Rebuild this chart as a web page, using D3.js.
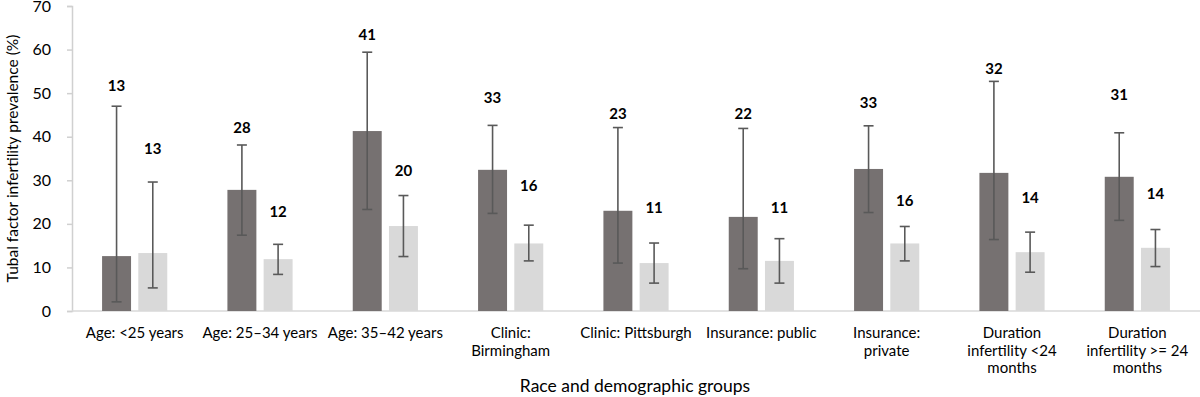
<!DOCTYPE html>
<html>
<head>
<meta charset="utf-8">
<script src="https://cdn.jsdelivr.net/npm/d3@7"></script>
<style>
  body { margin: 0; background: #fff; }
  svg text { font-family: Lato, "Open Sans", sans-serif; fill: #000; }
</style>
</head>
<body>
<svg id="chart" width="1200" height="397"></svg>
<script>
// categories (multi-line labels split by \n)
const categories = [
  "Age: <25 years", "Age: 25–34 years", "Age: 35–42 years",
  "Clinic:\nBirmingham", "Clinic: Pittsburgh", "Insurance: public",
  "Insurance:\nprivate", "Duration\ninfertility <24\nmonths", "Duration\ninfertility >= 24\nmonths"
];
// dark series
const darkValues = [12.6, 27.8, 41.3, 32.4, 23.0, 21.6, 32.6, 31.7, 30.8];
const darkLow    = [2.1, 17.4, 23.3, 22.4, 11.0, 9.7, 22.6, 16.4, 20.8];
const darkHigh   = [47.0, 38.1, 59.4, 42.6, 42.1, 41.9, 42.5, 52.7, 40.9];
const darkLabels = ["13", "28", "41", "33", "23", "22", "33", "32", "31"];
const darkLabelAt = [51.6, 42.0, 63.3, 49.0, 45.2, 45.2, 47.9, 55.5, 49.6];
// light series
const lightValues = [13.3, 11.9, 19.5, 15.5, 11.0, 11.5, 15.5, 13.5, 14.5];
const lightLow    = [5.3, 8.4, 12.5, 11.5, 6.4, 6.4, 11.5, 8.9, 10.2];
const lightHigh   = [29.6, 15.3, 26.5, 19.7, 15.6, 16.6, 19.4, 18.1, 18.7];
const lightLabels = ["13", "12", "20", "16", "11", "11", "16", "14", "14"];
const lightLabelAt = [37.3, 22.8, 32.2, 28.7, 23.8, 23.8, 25.4, 25.9, 26.8];
const yTicks = [0, 10, 20, 30, 40, 50, 60, 70];

const margin = { left: 72, right: 0, top: 6, bottom: 86 };
const width = 1200, height = 397;
const svg = d3.select("#chart");

const x = d3.scaleBand().domain(categories).range([margin.left, width - margin.right]).padding(0);
const x1 = d3.scaleBand().domain(["dark", "light"])
  .range([x.bandwidth() * 0.24, x.bandwidth() * 0.76]).paddingInner(0.2);
const y = d3.scaleLinear().domain([0, 70]).range([height - margin.bottom, margin.top]);

// y axis
const yAxis = svg.append("g")
  .attr("transform", `translate(${margin.left},0)`)
  .call(d3.axisLeft(y).tickValues(yTicks).tickSize(5).tickPadding(16));
yAxis.select(".domain").attr("stroke", "#d0d0d0").attr("stroke-width", 1.5);
yAxis.selectAll(".tick line").attr("stroke", "#d0d0d0").attr("stroke-width", 1.5);
yAxis.selectAll(".tick text").attr("font-size", 16).attr("fill", "#000");

// x axis line
svg.append("line")
  .attr("x1", margin.left).attr("x2", width)
  .attr("y1", y(0)).attr("y2", y(0))
  .attr("stroke", "#d9d9d9").attr("stroke-width", 1.5);

const series = [
  { key: "dark", values: darkValues, low: darkLow, high: darkHigh, labels: darkLabels, labelAt: darkLabelAt, color: "#767171" },
  { key: "light", values: lightValues, low: lightLow, high: lightHigh, labels: lightLabels, labelAt: lightLabelAt, color: "#d9d9d9" }
];

series.forEach(s => {
  const g = svg.append("g");
  const cx = (d, i) => x(categories[i]) + x1(s.key) + x1.bandwidth() / 2;

  g.selectAll("rect")
    .data(s.values)
    .enter()
    .append("rect")
    .attr("x", (d, i) => x(categories[i]) + x1(s.key))
    .attr("width", x1.bandwidth())
    .attr("y", d => y(d))
    .attr("height", d => y(0) - y(d))
    .attr("fill", s.color);

  // error bars
  const eb = g.selectAll("g.err")
    .data(s.values)
    .enter()
    .append("g")
    .attr("class", "err")
    .attr("stroke", "#595959")
    .attr("stroke-width", 1.6);
  eb.append("line")
    .attr("x1", cx).attr("x2", cx)
    .attr("y1", (d, i) => y(s.low[i])).attr("y2", (d, i) => y(s.high[i]));
  eb.append("line")
    .attr("x1", (d, i) => cx(d, i) - 5).attr("x2", (d, i) => cx(d, i) + 5)
    .attr("y1", (d, i) => y(s.high[i])).attr("y2", (d, i) => y(s.high[i]));
  eb.append("line")
    .attr("x1", (d, i) => cx(d, i) - 5).attr("x2", (d, i) => cx(d, i) + 5)
    .attr("y1", (d, i) => y(s.low[i])).attr("y2", (d, i) => y(s.low[i]));

  // value labels
  g.selectAll("text")
    .data(s.labels)
    .enter()
    .append("text")
    .attr("x", (d, i) => cx(d, i))
    .attr("y", (d, i) => y(s.labelAt[i]))
    .attr("dy", "0.35em")
    .attr("text-anchor", "middle")
    .attr("font-size", 15)
    .attr("font-weight", "bold")
    .text(d => d);
});

// category labels
const catG = svg.append("g");
categories.forEach(c => {
  const lines = c.split("\n");
  const t = catG.append("text")
    .attr("x", x(c) + x.bandwidth() / 2)
    .attr("y", y(0) + 27)
    .attr("text-anchor", "middle")
    .attr("font-size", 15);
  lines.forEach((ln, k) => {
    t.append("tspan")
      .attr("x", x(c) + x.bandwidth() / 2)
      .attr("dy", k === 0 ? 0 : 17.5)
      .text(ln);
  });
});

// axis titles
svg.append("text")
  .attr("x", 635).attr("y", 392)
  .attr("text-anchor", "middle")
  .attr("font-size", 17.5)
  .text("Race and demographic groups");

svg.append("text")
  .attr("transform", `translate(18,${(y(0) + y(70)) / 2}) rotate(-90)`)
  .attr("text-anchor", "middle")
  .attr("font-size", 15.5)
  .text("Tubal factor infertility prevalence (%)");
</script>
</body>
</html>
